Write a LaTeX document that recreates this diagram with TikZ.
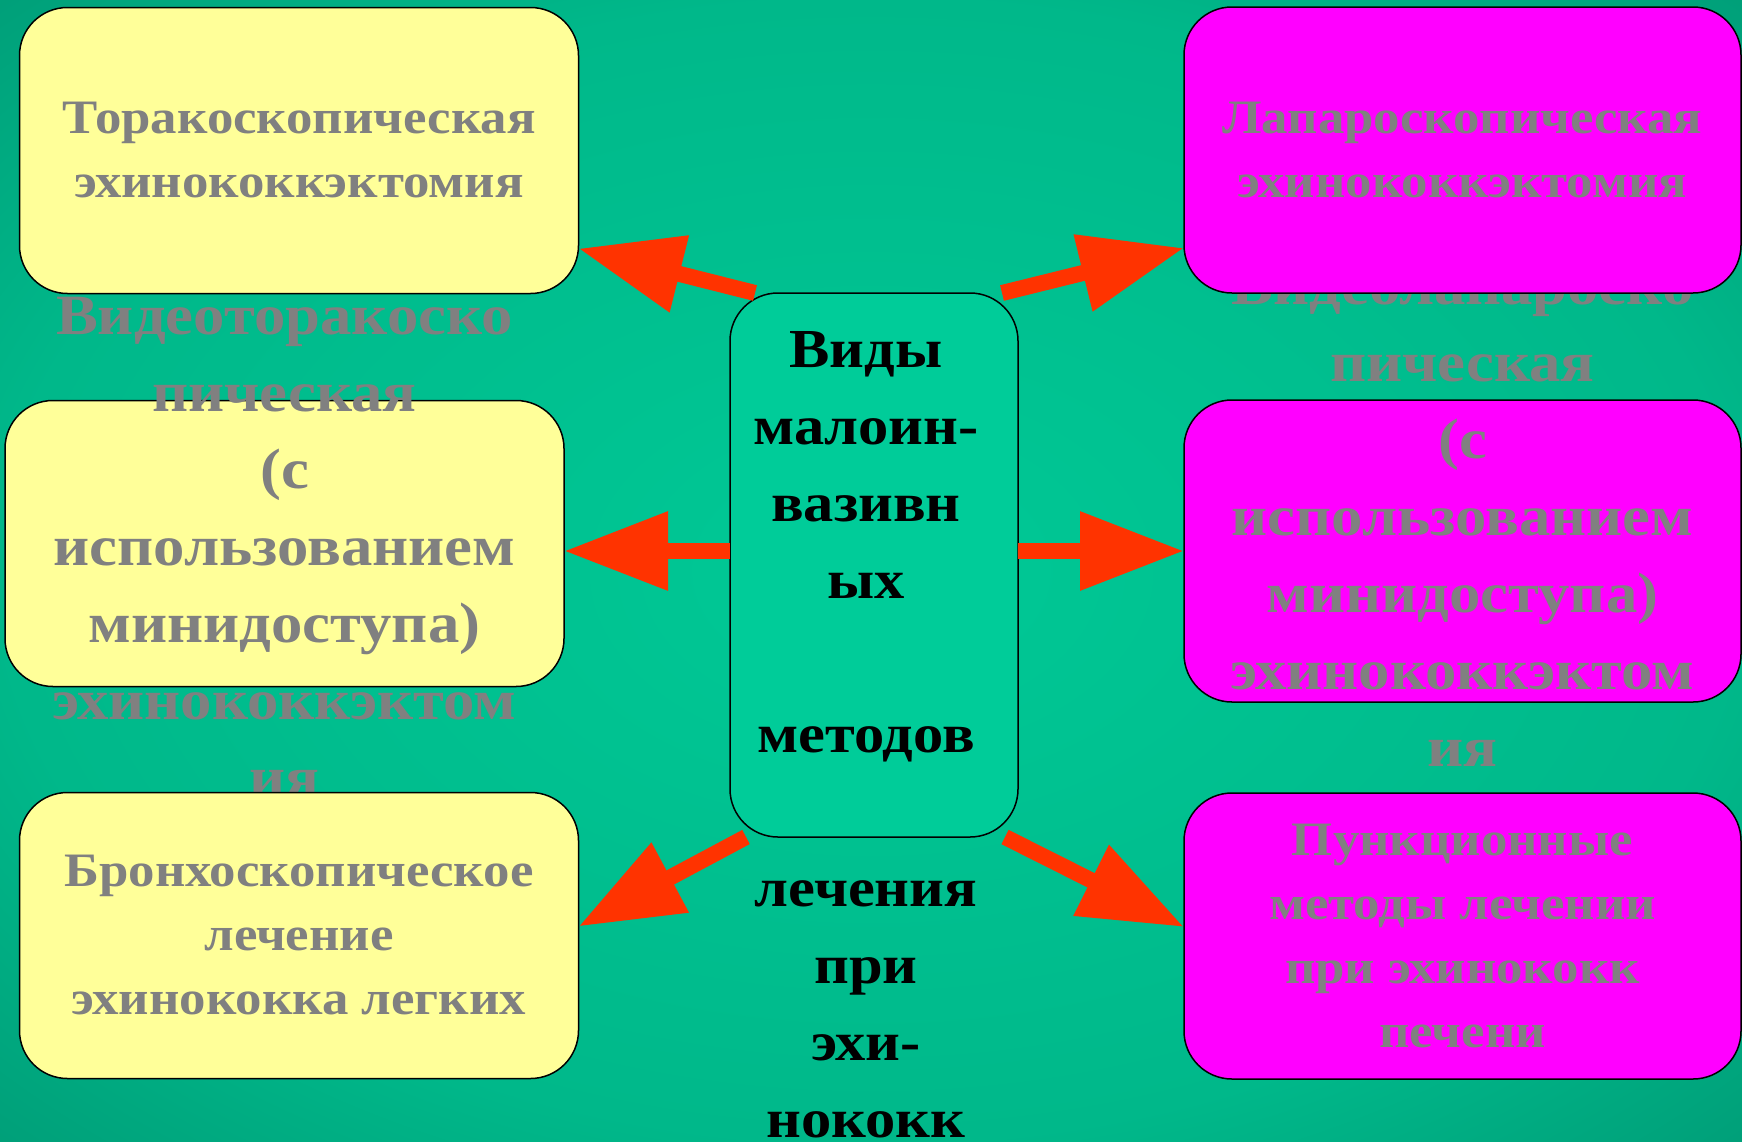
\documentclass[tikz,border=0pt]{standalone}
\usepackage{fontspec}
\setmainfont{Liberation Serif}[FakeStretch=1.1]
\usetikzlibrary{positioning, arrows.meta}

\definecolor{bgin}{HTML}{00C996}
\definecolor{bgmid}{HTML}{00B88A}
\definecolor{bgout}{HTML}{009E78}
\definecolor{ctrfill}{HTML}{00CC99}
\definecolor{yfill}{HTML}{FFFF99}
\definecolor{mfill}{HTML}{FF00FF}
\definecolor{txtgrey}{HTML}{808080}
\definecolor{arrred}{HTML}{FF3300}

\newcommand\txtsmall{\fontsize{48}{64}\selectfont\bfseries}
\newcommand\txtbig{\fontsize{57}{77}\selectfont\bfseries}
\newcommand\txtctr{\fontsize{55}{77}\selectfont\bfseries}

\pgfdeclareradialshading{bgshade}{\pgfpoint{0bp}{0bp}}{color(0bp)=(bgin); color(25bp)=(bgmid); color(36bp)=(bgout); color(50bp)=(bgout)}

\begin{document}
\begin{tikzpicture}[
			x=1pt, y=-1pt,
			box/.style={draw, line width=1.5pt, rounded corners=48pt, inner sep=0pt, outer sep=0pt, align=center, text=txtgrey, font=\txtsmall},
			ybox/.style={box, fill=yfill, minimum width=559pt, minimum height=286pt},
			mbox/.style={box, fill=mfill, minimum width=557pt, minimum height=286pt},
			cbox/.style={box, fill=ctrfill, minimum width=288pt, minimum height=544pt},
			bigtxt/.style={inner sep=0pt, align=center, text=txtgrey, font=\txtbig},
			ctrtxt/.style={inner sep=0pt, align=center, text=black, font=\txtctr},
			redarrow/.style={draw=arrred, line width=16pt, -{Triangle[length=104pt, width=75pt]}}]
		\useasboundingbox (0,0) rectangle (1742,1141);
		\shade[shading=bgshade] (0,0) rectangle (1742,1141);

		\node[cbox, label={[ctrtxt, xshift=-8pt, yshift=-169.5pt]center:{Виды\\малоин-\\вазивн\\ых\\ \\методов\\ \\лечения\\при\\эхи-\\нококк}}] (ctr) at (874,565) {};

		\node[ybox, left=166pt of ctr, yshift=21.5pt,
			label={[bigtxt, yshift=-3pt]center:{Видеоторакоско\\пическая\\(с\\использованием\\минидоступа)\\эхинококкэктом\\ия}}] (ml) {};
		\node[mbox, minimum height=302pt, right=166pt of ctr, yshift=14pt,
			label={[bigtxt, yshift=34pt]center:{Видеолапароско\\пическая\\(с\\использованием\\минидоступа)\\эхинококкэктом\\ия}}] (mr) {};

		\node[ybox, above=107pt of ml, xshift=14.5pt] (tl) {Торакоскопическая\\эхинококкэктомия};
		\node[mbox, above=107pt of mr] (tr) {Лапароскопическая\\эхинококкэктомия};
		\node[ybox, below=106pt of ml, xshift=14.5pt] (bl) {Бронхоскопическое\\лечение\\эхинококка легких};
		\node[mbox, below=91pt of mr] (br) {Пункционные\\методы лечении\\при эхинококк\\печени};

		\draw[redarrow] ([xshift=25pt]ctr.north west) -- ([yshift=45pt]tl.south east);
		\draw[redarrow] ([xshift=-16pt]ctr.north east) -- ([yshift=45pt]tr.south west);
		\draw[redarrow] (ctr.west |- mr.west) -- (ml.east |- mr.west);
		\draw[redarrow] (ctr.east |- mr.west) -- (mr.west);
		\draw[redarrow] ([xshift=16pt]ctr.south west) -- ([yshift=9pt]bl.east);
		\draw[redarrow] ([xshift=-13pt]ctr.south east) -- ([yshift=9pt]br.west);
	\end{tikzpicture}
\end{document}
